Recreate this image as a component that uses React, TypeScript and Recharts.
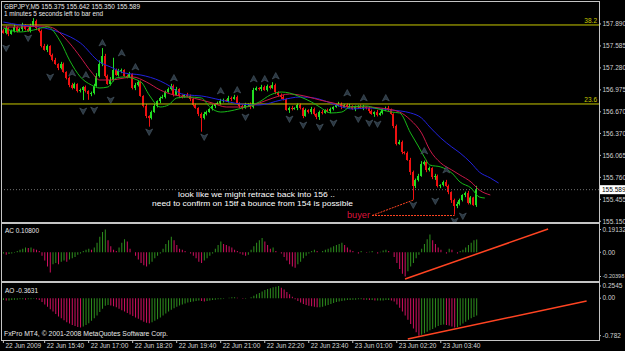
import { Bar, Cell, ComposedChart, Line, ReferenceLine, XAxis, YAxis } from "recharts";

// GBPJPY M5, 173 bars from 22 Jun 14:25 to 23 Jun 04:45
const firstOpen = 157.8;
const closes = [
  157.765, 157.834, 157.751, 157.792, 157.848, 157.792, 157.82, 157.876, 157.82, 157.792,
  157.862, 157.931, 157.834, 157.792, 157.584, 157.529, 157.584, 157.459, 157.39, 157.334,
  157.279, 157.334, 157.223, 157.14, 157.042, 157.001, 157.056, 156.959, 156.973, 157.015,
  156.959, 156.917, 156.931, 157.029, 157.167, 157.334, 157.445, 157.167, 157.056, 157.112,
  157.251, 157.181, 157.237, 157.251, 157.167, 157.154, 157.195, 157.001, 157.042, 157.084,
  156.89, 156.751, 156.612, 156.584, 156.667, 156.751, 156.82, 156.862, 156.876, 156.945,
  156.987, 157.029, 156.904, 156.987, 156.89, 156.876, 156.904, 156.89, 156.848, 156.765,
  156.723, 156.64, 156.584, 156.64, 156.667, 156.709, 156.751, 156.779, 156.792, 156.82,
  156.834, 156.82, 156.862, 156.848, 156.876, 156.792, 156.751, 156.723, 156.765, 156.779,
  156.737, 156.973, 157.001, 156.987, 157.015, 156.973, 157.029, 157.001, 157.042, 156.945,
  156.904, 156.876, 156.848, 156.695, 156.723, 156.709, 156.723, 156.765, 156.723, 156.612,
  156.695, 156.667, 156.709, 156.64, 156.598, 156.667, 156.654, 156.695, 156.681, 156.709,
  156.737, 156.765, 156.779, 156.737, 156.765, 156.737, 156.751, 156.709, 156.737, 156.751,
  156.723, 156.737, 156.723, 156.681, 156.64, 156.667, 156.626, 156.654, 156.709, 156.723,
  156.695, 156.64, 156.473, 156.223, 156.251, 156.112, 156.098, 156.001, 155.834, 155.64,
  155.723, 155.779, 155.945, 155.973, 155.862, 155.89, 155.765, 155.779, 155.64, 155.654,
  155.695, 155.64, 155.556, 155.445, 155.362, 155.39, 155.445, 155.515, 155.542, 155.404,
  155.48, 155.375, 155.589,
];
// wick lengths in hundredths of a yen
const upperWicks = [
  2, 3, 1, 2, 4, 1, 2, 3, 1, 2, 3, 4, 2, 1, 2, 3, 2, 1, 2, 3,
  1, 3, 2, 1, 2, 3, 2, 1, 2, 1, 2, 1, 2, 3, 4, 5, 11, 3, 2, 4,
  17, 2, 3, 2, 1, 2, 3, 1, 3, 2, 2, 1, 3, 1, 2, 3, 1, 2, 3, 2,
  2, 3, 2, 3, 1, 2, 1, 3, 2, 1, 2, 1, 2, 3, 2, 1, 2, 1, 2, 3,
  2, 1, 3, 2, 3, 2, 1, 2, 3, 1, 2, 3, 2, 1, 3, 2, 2, 1, 4, 2,
  1, 2, 3, 1, 2, 3, 1, 2, 2, 1, 2, 1, 3, 2, 1, 2, 3, 1, 2, 2,
  1, 2, 3, 2, 1, 2, 3, 1, 2, 1, 2, 3, 1, 2, 2, 1, 3, 2, 1, 2,
  3, 2, 1, 2, 3, 2, 1, 2, 3, 2, 2, 3, 4, 2, 3, 2, 1, 3, 2, 1,
  2, 3, 2, 1, 2, 3, 2, 1, 2, 3, 2, 1, 5.3,
];
const lowerWicks = [
  1, 2, 3, 1, 2, 2, 1, 3, 2, 1, 2, 1, 3, 2, 2, 1, 3, 2, 2, 1,
  3, 2, 1, 2, 3, 2, 1, 2, 2, 14, 2, 8, 3, 2, 1, 2, 3, 2, 1, 2,
  2, 1, 2, 3, 1, 2, 1, 2, 3, 2, 1, 2, 3, 12, 2, 1, 2, 3, 1, 2,
  1, 2, 2, 1, 3, 2, 1, 2, 3, 2, 1, 3, 19, 2, 2, 1, 2, 3, 1, 2,
  2, 1, 2, 3, 1, 2, 3, 2, 1, 2, 3, 2, 1, 2, 3, 1, 2, 2, 1, 3,
  2, 3, 2, 1, 4, 2, 1, 3, 2, 3, 1, 2, 3, 2, 3, 4, 2, 1, 2, 3,
  2, 1, 2, 3, 1, 2, 2, 1, 3, 2, 1, 3, 2, 3, 1, 4, 2, 1, 2, 3,
  2, 1, 3, 2, 1, 3, 2, 1, 4, 19, 3, 2, 1, 2, 3, 2, 3, 4, 2, 3,
  2, 1, 3, 4, 12, 3, 2, 2, 3, 2, 2, 1, 2.5,
];

// Alligator lines: [bar, price]
const jawPoints = [
  [0, 157.917], [6, 157.876], [13, 157.848], [21, 157.765], [28, 157.626], [35, 157.362],
  [39, 157.292], [44, 157.209], [50, 157.181], [57, 157.098], [61, 157.015], [64, 156.931],
  [67, 156.904], [72, 156.89], [79, 156.834], [86, 156.779], [93, 156.765], [101, 156.834],
  [108, 156.876], [113, 156.862], [118, 156.806], [123, 156.737], [127, 156.709], [132, 156.723],
  [141, 156.695], [148, 156.654], [152, 156.584], [155, 156.459], [159, 156.306], [163, 156.181],
  [166, 156.098], [170, 155.959], [173, 155.834], [177, 155.751], [180, 155.681],
];
const teethPoints = [
  [0, 157.848], [6, 157.848], [13, 157.862], [17, 157.848], [24, 157.626], [28, 157.431],
  [32, 157.223], [35, 157.112], [39, 157.112], [44, 157.14], [47, 157.154], [52, 157.084],
  [57, 156.973], [62, 156.904], [67, 156.876], [72, 156.834], [76, 156.792], [81, 156.737],
  [88, 156.737], [93, 156.792], [98, 156.862], [104, 156.917], [111, 156.876], [115, 156.834],
  [120, 156.792], [126, 156.737], [132, 156.737], [137, 156.723], [144, 156.667], [148, 156.556],
  [152, 156.376], [155, 156.14], [159, 155.959], [163, 155.862], [166, 155.792], [170, 155.695],
  [173, 155.584], [177, 155.515],
];
const lipsPoints = [
  [0, 157.834], [6, 157.779], [11, 157.806], [16, 157.848], [21, 157.626], [24, 157.39],
  [28, 157.154], [32, 157.042], [35, 157.001], [38, 157.015], [41, 157.14], [44, 157.154],
  [50, 157.084], [53, 156.904], [57, 156.737], [60, 156.765], [63, 156.862], [67, 156.876],
  [72, 156.862], [75, 156.737], [79, 156.667], [84, 156.695], [88, 156.737], [93, 156.806],
  [97, 156.904], [101, 156.945], [104, 156.931], [108, 156.876], [112, 156.806], [115, 156.737],
  [119, 156.654], [123, 156.667], [126, 156.737], [132, 156.751], [135, 156.723], [141, 156.667],
  [144, 156.654], [148, 156.376], [151, 156.181], [153, 156.043], [155, 155.931], [159, 155.904],
  [163, 155.82], [166, 155.695], [170, 155.612], [173, 155.487], [175, 155.473],
];

// fractal arrows: [bar, price]
const upFractals = [
  [25, 157.209], [30, 157.181], [36, 157.626], [43, 157.487], [48, 157.292], [62, 157.14],
  [79, 156.959], [85, 156.973], [91, 157.126], [95, 157.126], [99, 157.167], [125, 156.931],
  [131, 156.862], [139, 156.862], [153, 156.126], [161, 155.862],
];
const downFractals = [
  [1, 157.556], [9, 157.695], [17, 157.154], [29, 156.681], [33, 156.695], [39, 156.834],
  [53, 156.39], [73, 156.32], [88, 156.598], [104, 156.57], [109, 156.487], [115, 156.459],
  [120, 156.515], [129, 156.57], [133, 156.515], [136, 156.501], [149, 155.376], [157, 155.431],
  [164, 155.154], [167, 155.223],
];

const acValues = [
  -0.01, -0.02, -0.015, -0.01, -0.005, 0.01, 0.02, 0.03, 0.04, 0.035, 0.04, 0.03, 0.02, 0.01,
  -0.03, -0.07, -0.12, -0.17, -0.1, -0.09, -0.1, -0.08, -0.07, -0.08, -0.06, -0.05, -0.04, -0.02, -0.01,
  0.01, 0.02, 0.03, 0.02, 0.04, 0.08, 0.13, 0.17, 0.191,
  0.1, 0.05, 0.02, 0.01, 0.04, 0.08, 0.11, 0.09, 0.03, 0.0,
  -0.03, -0.06, -0.09, -0.11, -0.12, -0.1, -0.08, -0.05, -0.03, -0.01,
  0.03, 0.07, 0.1, 0.13, 0.1, 0.06, 0.03, 0.02, 0.01, 0.0, -0.01, -0.03,
  -0.05, -0.08, -0.09, -0.07, -0.05, -0.03, -0.01, 0.03, 0.06, 0.09,
  0.07, 0.06, 0.05, 0.04, 0.02, 0.01, -0.01, -0.02, -0.03, -0.02,
  0.02, 0.05, 0.08, 0.1, 0.12, 0.09, 0.06, 0.03, 0.04, 0.01, 0.0, -0.01,
  -0.04, -0.07, -0.1, -0.12, -0.13, -0.1, -0.08, -0.05, -0.03,
  -0.01, 0.01, 0.02, 0.01, 0.0, 0.01, 0.02, 0.03, 0.04, 0.05, 0.06, 0.07, 0.08, 0.06, 0.04, 0.02, 0.01,
  0.0, -0.01, 0.01, 0.0, -0.005, 0.005, 0.01, 0.0, -0.01, 0.005, 0.015, 0.02, 0.01, 0.0,
  -0.04, -0.09, -0.14, -0.18, -0.204, -0.16, -0.12, -0.09, -0.05, -0.02,
  0.03, 0.07, 0.11, 0.15, 0.1, 0.07, 0.04, 0.02, 0.0, -0.01,
  0.03, 0.02, 0.0, -0.01, 0.01, 0.02, 0.04, 0.06, 0.08, 0.1, 0.108,
];
const aoValues = [
  -0.04, -0.05, -0.05, -0.04, -0.03, -0.03, -0.02, -0.02, -0.03, -0.02, -0.02, -0.01, -0.02, -0.04,
  -0.08, -0.13, -0.18, -0.23, -0.28, -0.33, -0.38, -0.42, -0.46, -0.5, -0.53, -0.56, -0.58, -0.6, -0.61,
  -0.59, -0.56, -0.52, -0.47, -0.42, -0.36, -0.29, -0.22, -0.16,
  -0.14, -0.15, -0.17, -0.19, -0.22, -0.25, -0.28, -0.31, -0.34, -0.37, -0.4, -0.43, -0.46, -0.49, -0.51,
  -0.52, -0.5, -0.47, -0.44, -0.4, -0.36, -0.32, -0.28, -0.24, -0.21, -0.18, -0.15, -0.13, -0.11, -0.09,
  -0.08, -0.07, -0.06, -0.05, -0.06,
  -0.07, -0.06, -0.05, -0.04, -0.03, -0.02, -0.02, -0.01, 0.0, 0.01, 0.02, 0.02, 0.01, 0.0, -0.01, -0.01,
  0.0, 0.02, 0.05, 0.08, 0.11, 0.14, 0.17, 0.19, 0.21, 0.23, 0.24, 0.2545, 0.22, 0.18,
  0.13, 0.08, 0.03, -0.02, -0.06, -0.09,
  -0.12, -0.14, -0.16, -0.17, -0.18, -0.19, -0.19, -0.18, -0.16, -0.14, -0.12, -0.1, -0.08, -0.07,
  -0.06, -0.05, -0.04, -0.04, -0.03, -0.03, -0.02, -0.02, -0.03, -0.03, -0.04, -0.04, -0.05, -0.05,
  -0.05, -0.05, -0.04, -0.04, -0.05,
  -0.07, -0.13, -0.2, -0.28, -0.36, -0.45, -0.54, -0.63, -0.71, -0.782, -0.76, -0.73, -0.7, -0.67,
  -0.64, -0.61, -0.58, -0.56, -0.55, -0.56, -0.57, -0.59, -0.61, -0.6, -0.57, -0.53, -0.49, -0.45,
  -0.42, -0.39, -0.3631,
];

const priceTicks = [157.89, 157.585, 157.28, 156.975, 156.67, 156.37, 156.065, 155.76, 155.455, 155.15];
const acTicks = [0.19132, 0, -0.20398];
const aoTicks = [0.2545, 0, -0.782];
const fibLevels = [
  { label: "38.2", price: 157.876 },
  { label: "23.6", price: 156.779 },
];
const lastPrice = 155.589;
const timeTickBars = [0, 15, 31, 47, 63, 79, 95, 111, 127, 143, 159];
const timeLabels = [
  "22 Jun 2009", "22 Jun 15:40", "22 Jun 17:00", "22 Jun 18:20", "22 Jun 19:40", "22 Jun 21:00",
  "22 Jun 22:20", "22 Jun 23:40", "23 Jun 01:00", "23 Jun 02:20", "23 Jun 03:40",
];
// hand-drawn lines: [bar, value]
const buyerLines = [
  [[134, 155.23], [149, 155.445]],
  [[134, 155.23], [164, 155.23]],
];
const acTrend = [[146, -0.225], [198, 0.195]];
const aoTrend = [[147, -0.851], [212, -0.058]];

const TOTAL_BARS = 217;
const UP = "#22dd22";
const DOWN = "#ee1111";
const HIST_UP = "#2e8f1e";
const HIST_DOWN = "#d01060";
const AXIS = "#c4c4c4";
const FONT = "Liberation Sans, Arial, sans-serif";

const rows: any[] = Array.from({ length: TOTAL_BARS }, (_, i) => {
  const row: any = { bar: i };
  if (i < closes.length) {
    const o = i === 0 ? firstOpen : closes[i - 1];
    const c = closes[i];
    const h = Math.max(o, c) + upperWicks[i] / 100;
    const l = Math.min(o, c) - lowerWicks[i] / 100;
    Object.assign(row, { o, h, l, c, range: [l, h], ac: acValues[i], ao: aoValues[i] });
  }
  return row;
});
jawPoints.forEach(([b, v]) => (rows[b].jaw = v));
teethPoints.forEach(([b, v]) => (rows[b].teeth = v));
lipsPoints.forEach(([b, v]) => (rows[b].lips = v));
upFractals.forEach(([b, v]) => (rows[b].fu = v));
downFractals.forEach(([b, v]) => (rows[b].fd = v));

const histColor = (vals: number[], i: number) => (i > 0 && vals[i] < vals[i - 1] ? HIST_DOWN : HIST_UP);

function Candle(props: any) {
  const { x, y, width, height, payload } = props;
  if (!payload || payload.o == null) return <g />;
  const top = Math.min(y, y + height);
  const bottom = Math.max(y, y + height);
  const k = (bottom - top) / (payload.h - payload.l);
  const yOf = (p: number) => top + (payload.h - p) * k;
  const cx = Math.floor(x + width / 2);
  const color = payload.c >= payload.o ? UP : DOWN;
  const bTop = yOf(Math.max(payload.o, payload.c));
  const bBot = yOf(Math.min(payload.o, payload.c));
  return (
    <g>
      <rect x={cx} y={top} width={1} height={bottom - top} fill={color} />
      <rect x={cx - 1} y={bTop} width={2} height={Math.max(1, bBot - bTop)} fill={color} />
    </g>
  );
}

function fractalDot(dir: number) {
  return (p: any) => {
    const key = `f${dir}-${p.index}`;
    if (p.value == null || p.cy == null) return <g key={key} />;
    const { cx, cy } = p;
    const d =
      dir > 0
        ? `M${cx},${cy - 3.5} L${cx + 3.5},${cy + 3} L${cx},${cy + 1.2} L${cx - 3.5},${cy + 3} Z`
        : `M${cx},${cy + 3.5} L${cx + 3.5},${cy - 3} L${cx},${cy - 1.2} L${cx - 3.5},${cy - 3} Z`;
    return <path key={key} d={d} fill="#2a3742" stroke="#4a5965" strokeWidth={0.6} />;
  };
}

// right-hand scale labels; long ones get a smaller font so they fit the window
function ScaleTick({ x, y, payload, tickFormatter }: any) {
  const label = tickFormatter ? tickFormatter(payload.value) : String(payload.value);
  return (
    <text x={x} y={y} dy="0.35em" fill="#d0d0d0" fontSize={label.length > 7 ? 5.5 : 6.5} fontFamily={FONT}>
      {label}
    </text>
  );
}

function TimeTick({ x, payload }: any) {
  const idx = timeTickBars.indexOf(payload.value);
  return (
    <text x={x + 2} y={66} fill="#d8d8d8" fontSize={6.5} fontFamily={FONT}>
      {timeLabels[idx]}
    </text>
  );
}

function PriceBox({ viewBox }: any) {
  const right = viewBox.x + viewBox.width;
  return (
    <g>
      <rect x={right + 1} y={viewBox.y - 4.5} width={26} height={9} fill="#ffffff" />
      <text x={right + 3} y={viewBox.y + 2.5} fill="#000" fontSize={6.5} fontFamily={FONT}>
        {lastPrice.toFixed(3)}
      </text>
    </g>
  );
}

const margin = { top: 0, right: 0, bottom: 0, left: 2 };
const zeroFmt = (v: number) => (v === 0 ? "0.00" : String(v));

function frame(top: number, height: number) {
  return {
    position: "absolute" as const,
    left: 1,
    top,
    width: 599,
    height,
    border: `1px solid ${AXIS}`,
    boxSizing: "border-box" as const,
    pointerEvents: "none" as const,
  };
}

export default function App() {
  return (
    <div
      style={{
        position: "absolute",
        left: 0,
        top: 0,
        width: 625,
        height: 351,
        background: "#000",
        overflow: "hidden",
        fontFamily: FONT,
      }}
    >
      <div style={{ position: "absolute", left: 0, top: 0 }}>
        <ComposedChart width={625} height={227} data={rows} margin={{ ...margin, top: 2, bottom: 5 }}>
          <XAxis dataKey="bar" type="category" hide />
          <YAxis
            orientation="right"
            width={26}
            domain={[155.14, 158.195]}
            allowDataOverflow
            ticks={priceTicks}
            interval={0}
            tickFormatter={(v: number) => v.toFixed(3)}
            tick={<ScaleTick />}
            tickSize={2}
            tickMargin={1.5}
            tickLine={{ stroke: AXIS }}
            axisLine={false}
          />
          {fibLevels.map((f) => (
            <ReferenceLine
              key={f.label}
              y={f.price}
              stroke="#c8c800"
              label={{ value: f.label, position: "insideBottomRight", offset: 2, fill: "#c8c800", fontSize: 6.5 }}
            />
          ))}
          <ReferenceLine y={lastPrice} stroke="#707070" strokeDasharray="1 2" label={<PriceBox />} />
          <Line dataKey="jaw" stroke="#2222dd" dot={false} connectNulls type="monotone" strokeWidth={1} isAnimationActive={false} />
          <Line dataKey="teeth" stroke="#c81848" dot={false} connectNulls type="monotone" strokeWidth={1} isAnimationActive={false} />
          <Line dataKey="lips" stroke="#18b818" dot={false} connectNulls type="monotone" strokeWidth={1} isAnimationActive={false} />
          <Bar dataKey="range" shape={<Candle />} isAnimationActive={false} />
          <Line dataKey="fu" stroke="none" dot={fractalDot(1)} activeDot={false} isAnimationActive={false} />
          <Line dataKey="fd" stroke="none" dot={fractalDot(-1)} activeDot={false} isAnimationActive={false} />
          {buyerLines.map((seg, i) => (
            <ReferenceLine
              key={i}
              segment={seg.map(([x, y]) => ({ x, y }))}
              stroke="#ff4422"
              strokeDasharray="2 1"
              strokeWidth={1}
            />
          ))}
        </ComposedChart>
      </div>

      <div style={{ position: "absolute", left: 0, top: 223 }}>
        <ComposedChart width={625} height={61} data={rows} margin={{ ...margin, bottom: 3 }} barCategoryGap={0}>
          <XAxis dataKey="bar" type="category" hide />
          <YAxis
            orientation="right"
            width={26}
            domain={[-0.2418, 0.246]}
            allowDataOverflow
            ticks={acTicks}
            interval={0}
            tickFormatter={zeroFmt}
            tick={<ScaleTick />}
            tickSize={2}
            tickMargin={1.5}
            tickLine={{ stroke: AXIS }}
            axisLine={false}
          />
          <Bar dataKey="ac" barSize={1} isAnimationActive={false}>
            {rows.map((r, i) => (
              <Cell key={i} fill={r.ac == null ? "none" : histColor(acValues, i)} />
            ))}
          </Bar>
          <ReferenceLine
            segment={acTrend.map(([x, y]) => ({ x, y }))}
            stroke="#ff4422"
            strokeWidth={1.5}
            ifOverflow="visible"
          />
        </ComposedChart>
      </div>

      <div style={{ position: "absolute", left: 0, top: 282 }}>
        <ComposedChart width={625} height={69} data={rows} margin={margin} barCategoryGap={0}>
          <XAxis
            dataKey="bar"
            type="category"
            height={11}
            ticks={timeTickBars}
            interval={0}
            tick={<TimeTick />}
            tickSize={3}
            tickLine={{ stroke: AXIS }}
            axisLine={false}
          />
          <YAxis
            orientation="right"
            width={26}
            domain={[-0.872, 0.338]}
            allowDataOverflow
            ticks={aoTicks}
            interval={0}
            tickFormatter={zeroFmt}
            tick={<ScaleTick />}
            tickSize={2}
            tickMargin={1.5}
            tickLine={{ stroke: AXIS }}
            axisLine={false}
          />
          <Bar dataKey="ao" barSize={1} isAnimationActive={false}>
            {rows.map((r, i) => (
              <Cell key={i} fill={r.ao == null ? "none" : histColor(aoValues, i)} />
            ))}
          </Bar>
          <ReferenceLine
            segment={aoTrend.map(([x, y]) => ({ x, y }))}
            stroke="#ff4422"
            strokeWidth={1.5}
            ifOverflow="visible"
          />
        </ComposedChart>
      </div>

      <div style={frame(1, 222)} />
      <div style={frame(223, 59)} />
      <div style={frame(282, 59)} />

      <svg
        width={625}
        height={351}
        style={{ position: "absolute", left: 0, top: 0, pointerEvents: "none" }}
        fontFamily={FONT}
      >
        <text x={4} y={8.5} fill="#e8e8e8" fontSize={6.8} textLength={136} lengthAdjust="spacingAndGlyphs">
          GBPJPY,M5  155.375 155.642 155.350 155.589
        </text>
        <text x={4} y={16} fill="#e8e8e8" fontSize={6.8} textLength={99} lengthAdjust="spacingAndGlyphs">
          1 minutes 5 seconds left to bar end
        </text>
        <text x={178} y={197} fill="#ffffff" fontSize={8} textLength={157} lengthAdjust="spacingAndGlyphs">
          look like we might retrace back into 156 ..
        </text>
        <text x={152} y={205.5} fill="#ffffff" fontSize={8} textLength={201} lengthAdjust="spacingAndGlyphs">
          need to confirm on 15tf a bounce from 154 is possible
        </text>
        <text x={347} y={218} fill="#dc143c" fontSize={9} textLength={23} lengthAdjust="spacingAndGlyphs">
          buyer
        </text>
        <text x={5} y={233} fill="#e8e8e8" fontSize={6.8} textLength={34} lengthAdjust="spacingAndGlyphs">
          AC 0.10800
        </text>
        <text x={5} y={292.5} fill="#e8e8e8" fontSize={6.8} textLength={33} lengthAdjust="spacingAndGlyphs">
          AO -0.3631
        </text>
        <text x={4} y={336} fill="#e8e8e8" fontSize={6.8} textLength={164} lengthAdjust="spacingAndGlyphs">
          FxPro MT4, © 2001-2008 MetaQuotes Software Corp.
        </text>
      </svg>
    </div>
  );
}
